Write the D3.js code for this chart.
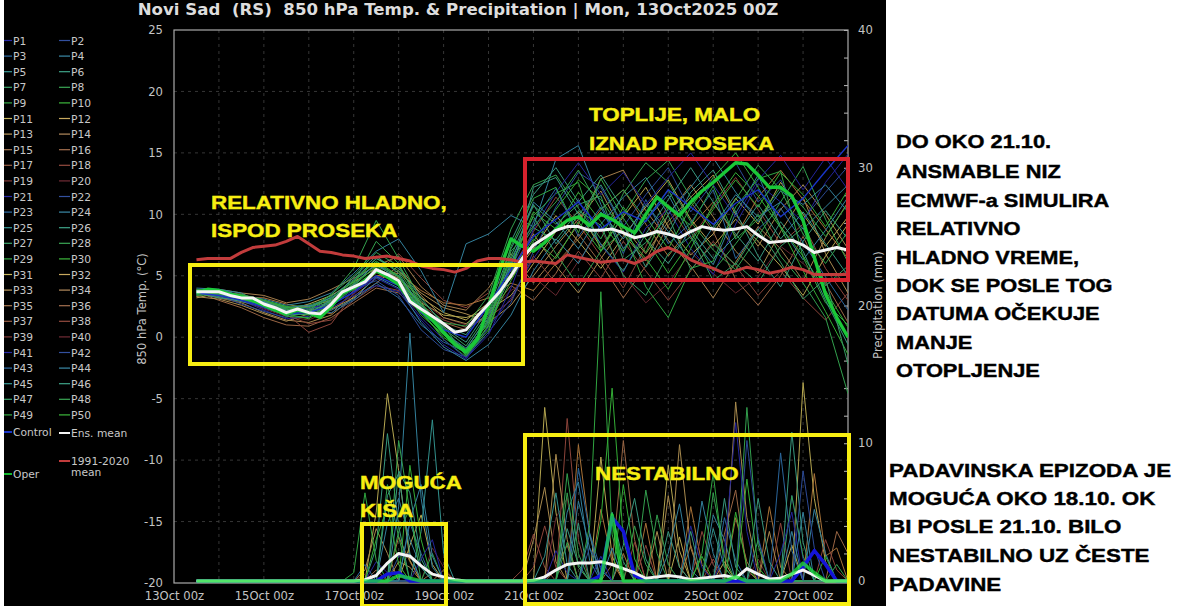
<!DOCTYPE html>
<html>
<head>
<meta charset="utf-8">
<script src="https://cdnjs.cloudflare.com/ajax/libs/d3/7.8.5/d3.min.js"></script>
<style>
	html, body { margin: 0; padding: 0; background: #fff; }
	svg { display: block; }
	text { font-family: "DejaVu Sans", sans-serif; }
	.note { font-family: "Liberation Sans", Arial, sans-serif; font-weight: bold; }
</style>
</head>
<body>
<script>
// values, time steps are 6 h from 13 Oct 12z
var ensMeanTemp = [3.7,3.7,3.7,3.4,3.2,3.2,2.7,2.4,2.0,2.3,2.0,1.9,2.7,3.7,4.1,4.5,5.5,5.1,4.6,2.9,2.3,1.7,1.1,0.4,0.6,1.7,2.7,3.7,5.0,6.4,7.5,8.1,8.7,9.0,9.0,8.7,8.7,8.8,8.5,8.1,8.3,8.6,8.4,8.1,8.6,9.0,8.8,8.7,8.8,9.0,8.3,7.7,7.8,7.9,7.5,6.9,7.1,7.3,7.1];
var climTemp = [6.3,6.4,6.4,6.4,6.9,7.3,7.4,7.5,7.8,8.2,7.6,7.0,6.9,6.7,6.6,6.4,6.5,6.6,6.4,6.2,5.8,5.6,5.5,5.3,5.6,6.2,6.4,6.4,6.3,6.1,6.2,6.1,6.0,6.7,6.5,6.3,6.1,6.2,6.3,6.0,6.4,7.0,7.3,6.9,6.3,5.9,5.6,5.2,5.4,5.7,5.5,5.2,5.4,5.7,5.5,5.1,5.1,5.1,5.1];
var operTemp = [3.6,3.9,3.8,3.5,3.3,3.0,2.6,2.2,1.9,2.2,2.0,1.6,2.5,3.6,4.0,4.6,5.4,4.9,4.3,3.0,2.2,1.4,0.4,-0.6,-1.2,-0.2,2.5,5.5,8.0,7.4,7.0,7.7,8.8,9.5,9.8,9.1,10.0,9.6,9.0,8.5,10.0,11.4,10.6,9.9,11.0,11.9,12.6,13.4,14.2,14.1,13.2,12.2,12.2,11.5,9.5,6.5,3.5,1.6,0.0];

// ensemble members, 12 h steps
var controlTemp = [3.6,3.4,3.0,2.5,1.9,2.0,2.6,3.7,5.0,4.2,2.0,0.6,0.0,2.6,5.5,8.2,9.6,11.0,8.8,10.2,9.4,12.0,10.6,9.2,10.9,12.0,9.8,11.3,13.5,15.6];
var tempP01 = [3.4,3.6,3.0,2.2,1.5,1.7,2.4,3.4,4.2,3.7,1.4,-0.6,-1.8,0.8,3.2,6.4,9.0,11.2,7.5,5.3,8.9,10.4,7.2,5.1,9.2,12.5,11.0,9.4,12.6,14.9];
var tempP03 = [3.8,3.5,3.1,2.4,1.8,2.2,2.0,3.0,4.4,3.2,1.0,-0.4,-1.2,1.4,5.6,9.4,12.1,8.2,10.6,6.8,11.2,7.6,9.3,12.0,6.4,8.8,10.5,7.7,4.9,2.2];
var tempP04 = [4.0,3.9,3.4,3.1,2.6,2.9,3.6,5.2,7.0,8.0,5.4,2.0,7.6,8.4,9.9,9.0,14.5,15.6,10.8,7.2,9.5,11.6,8.2,5.9,10.1,13.2,9.0,6.3,8.7,11.4];
var tempP06 = [3.7,3.3,2.9,2.5,2.3,1.9,3.1,4.6,5.9,5.0,2.6,0.8,-0.4,2.3,7.2,10.8,7.6,9.9,12.4,9.1,5.7,8.4,11.8,13.6,10.2,6.6,4.1,7.8,10.3,8.0];
var tempP07 = [3.8,3.6,3.3,2.9,2.4,2.3,2.9,4.0,5.4,4.7,2.1,0.5,-1.1,1.3,6.2,8.9,7.9,10.3,9.1,5.0,3.4,6.8,8.2,4.6,6.0,4.4,7.4,8.9,4.2,5.8];
var tempP08 = [3.9,3.7,3.3,2.8,2.1,2.4,3.4,5.6,9.5,6.4,3.0,1.2,0.9,3.4,8.8,12.4,13.2,10.5,8.0,11.7,14.2,12.6,9.4,7.1,5.5,8.2,11.0,13.9,9.6,6.1];
var tempP09 = [3.6,3.7,3.4,3.0,2.5,2.6,3.2,4.5,6.4,5.4,2.7,0.9,-1.5,0.4,5.9,9.9,11.7,12.6,7.0,8.7,4.1,1.6,5.6,6.2,10.6,12.9,13.5,6.5,2.8,1.0];
var tempP10 = [3.5,3.8,3.2,2.6,2.0,1.8,2.9,4.2,6.1,4.9,2.2,-0.2,-1.6,1.0,4.6,7.8,10.4,12.8,11.2,8.6,6.4,3.9,7.2,10.8,13.4,11.5,8.9,5.4,2.1,-1.4];
var tempP11 = [3.2,3.6,3.5,2.9,2.4,2.5,3.0,4.0,5.3,4.4,2.8,1.8,1.6,2.2,3.4,6.0,8.6,10.2,7.3,9.8,12.2,9.0,6.7,8.4,11.3,9.2,12.6,10.0,7.4,9.8];
var tempP13 = [3.6,3.2,2.8,2.0,1.4,1.2,1.8,3.3,4.8,5.4,3.6,2.4,1.9,1.2,2.6,5.0,7.4,9.6,11.9,8.4,6.2,10.0,12.4,9.8,7.0,5.2,8.6,11.4,6.8,3.6];
var tempP14 = [3.3,3.9,3.6,3.4,2.8,3.1,3.9,4.8,5.8,6.6,4.1,2.6,2.2,4.0,6.8,4.4,6.6,9.2,12.9,13.6,10.3,7.9,5.8,3.2,6.1,9.0,7.2,4.6,8.1,11.0];
var tempP16 = [3.7,3.0,2.4,1.6,1.0,0.9,1.6,2.8,4.0,3.6,2.0,1.2,0.6,1.9,4.2,3.0,5.2,8.4,6.0,3.2,5.8,9.1,11.0,8.6,4.7,2.6,5.0,8.2,4.4,1.2];
var tempP18 = [3.9,3.4,3.0,2.7,1.9,0.4,1.1,3.6,5.2,6.8,4.8,3.0,2.4,3.6,5.4,8.6,11.4,9.2,6.6,4.0,7.4,10.8,8.0,10.6,13.0,10.4,7.6,9.2,5.6,3.0];
var tempP20 = [3.4,3.7,3.1,2.3,1.7,1.4,2.2,3.5,5.0,4.6,2.9,1.6,1.0,2.0,3.8,4.9,3.4,6.2,8.8,5.1,2.8,4.4,6.9,5.2,3.6,4.9,7.4,6.0,4.2,5.5];
var tempP22 = [3.8,3.4,2.7,2.1,1.6,2.3,2.6,3.9,4.6,3.4,0.6,-1.0,-1.6,0.4,2.8,7.0,10.6,13.4,12.2,9.0,11.6,13.8,10.2,12.6,14.2,11.0,12.8,9.6,11.8,13.9];
var tempP24 = [3.5,3.9,3.6,2.6,2.4,2.6,2.2,3.1,4.9,4.0,1.2,-0.8,-1.9,-0.6,1.8,5.4,8.0,6.0,9.2,11.4,13.0,10.0,12.2,14.6,11.8,9.4,11.9,10.8,12.4,10.2];
var tempP26 = [3.6,3.2,3.0,2.9,2.2,2.1,3.3,4.7,6.4,5.6,3.2,1.0,0.2,2.9,7.8,11.6,13.8,11.0,13.2,10.4,8.0,6.0,8.8,6.4,8.2,10.8,8.0,10.2,7.6,5.0];
var tempP28 = [3.9,3.6,3.2,2.6,1.7,1.6,2.8,4.4,7.8,6.0,2.4,0.2,-1.0,1.8,6.4,9.8,6.8,4.2,7.0,10.0,12.8,14.4,11.4,8.8,11.2,14.0,12.0,8.4,6.0,8.6];
var tempP30 = [3.4,3.5,3.4,3.0,2.5,2.0,2.5,4.1,5.5,4.4,1.8,0.2,-1.4,0.6,5.8,10.2,8.8,11.8,9.4,7.0,9.8,7.2,10.6,13.0,15.0,12.2,9.0,6.6,3.8,0.8];
var tempP31 = [3.6,3.8,3.4,2.8,2.2,2.7,3.4,4.5,5.6,4.8,3.2,2.0,1.4,2.8,4.8,7.2,9.9,7.8,5.6,8.2,10.6,12.8,9.6,7.4,9.6,7.8,5.8,3.4,6.6,9.2];
var tempP33 = [3.3,3.1,2.6,1.9,1.3,1.9,2.3,3.2,4.4,5.8,3.4,1.6,1.1,2.5,5.2,8.4,5.8,3.6,6.4,9.0,6.8,9.4,11.4,13.2,10.0,7.4,10.4,12.4,10.0,7.2];
var tempP35 = [3.7,3.6,3.3,3.2,2.7,2.3,1.9,3.8,5.0,5.2,3.8,2.8,2.6,3.2,4.4,3.8,6.0,8.0,10.4,12.0,9.2,6.6,9.0,11.0,8.2,11.4,13.6,11.2,8.8,6.4];
var tempP38 = [3.8,3.2,2.9,2.4,1.8,1.1,1.4,3.0,4.2,3.8,2.6,1.4,0.8,1.6,3.0,6.6,4.4,7.0,4.8,7.8,5.4,3.0,5.4,7.8,5.8,3.4,5.4,3.2,1.4,3.6];
var tempP41 = [3.5,3.8,3.0,2.4,2.0,2.4,2.7,3.6,4.8,3.9,1.6,-0.2,-1.7,0.2,4.0,8.8,11.8,14.2,11.6,13.4,10.8,13.0,15.0,12.4,9.8,12.8,14.8,12.0,14.6,12.0];
var tempP44 = [3.8,3.6,3.1,2.9,2.1,2.5,3.2,4.3,6.0,4.6,2.2,0.4,-0.9,1.6,6.0,11.0,9.4,7.2,10.2,8.0,10.8,8.6,6.2,9.0,11.6,9.8,11.0,8.8,10.6,12.4];
var tempP46 = [3.6,3.4,3.2,2.5,1.8,1.9,3.0,4.9,6.6,5.2,2.4,0.4,-1.2,1.2,5.0,12.2,13.0,10.0,7.6,5.4,8.4,11.2,13.8,11.0,8.4,6.2,9.4,7.0,3.0,-0.6];
var tempP47 = [3.7,3.7,3.3,2.8,2.3,2.1,2.8,4.2,5.8,4.9,2.5,0.7,-0.7,2.0,6.6,10.7,9.2,10.8,11.5,6.3,7.7,9.9,5.5,7.6,5.9,8.8,6.1,3.1,4.8,-2.2];
var tempP48 = [3.7,3.5,3.4,2.7,2.3,2.2,3.5,5.0,6.9,5.8,2.8,0.6,-1.5,0.9,7.0,9.0,11.0,13.6,10.4,12.0,9.6,12.0,8.6,5.4,7.6,10.0,6.6,4.4,1.6,-4.6];
var tempP49 = [3.6,3.5,3.5,3.0,2.4,2.4,3.1,4.6,6.2,5.0,2.3,0.3,-1.0,1.1,7.4,11.3,12.2,8.5,12.9,9.7,6.9,10.5,9.1,12.3,8.0,9.6,12.2,10.6,8.2,10.9];
var tempP50 = [3.5,3.6,3.1,2.6,1.9,1.5,2.7,4.4,5.7,4.6,2.0,0.0,-1.3,1.5,5.2,8.0,6.4,9.4,7.0,10.6,8.0,5.2,7.8,10.4,12.8,10.6,13.4,11.6,9.0,12.0];

var ensMeanPrecip = [0,0,0,0,0,0,0,0,0,0,0,0,0,0,0,0.1,0.4,1.3,2.0,1.8,1.1,0.5,0.3,0.1,0,0,0,0,0,0,0.05,0.3,0.8,1.2,1.3,1.3,1.4,1.2,0.9,0.6,0.2,0.3,0.4,0.3,0.1,0.2,0.3,0.4,0.2,0.9,0.5,0.15,0.2,0.5,0.8,0.4,0,0,0];
// only the wet steps are listed, [step, mm]
var operPrecip = [[18,0.4],[19,0.2],[37,4.8],[48,0.3],[53,0.5],[54,1.3],[55,0.6]];
var controlPrecip = [[17,0.5],[18,0.6],[36,0.4],[37,4.6],[38,3.6],[39,0.4],[54,1.0],[55,2.2],[56,1.2]];
var precipP01 = [[16,1.4],[17,0.6],[32,2.2],[33,0.6],[44,4.0],[45,1.0],[53,6.2],[54,1.6]];
var precipP03 = [[15,1.2],[19,4.2],[20,2.0],[34,8.2],[35,3.5],[36,0.8],[47,4.6],[48,1.5],[52,9.3],[53,2.2]];
var precipP04 = [[18,5.4],[19,18.0],[20,6.0],[21,1.0],[33,5.0],[34,7.2],[35,1.5],[42,2.0],[43,5.6],[44,0.8],[55,5.2],[56,2.0]];
var precipP05 = [[20,3.6],[21,11.7],[22,2.0],[31,1.8],[32,6.4],[33,1.2],[46,3.8],[47,1.0]];
var precipP06 = [[16,2.4],[17,10.7],[18,4.0],[33,3.8],[34,1.2],[38,2.6],[39,6.0],[40,1.6],[50,3.0],[53,10.8],[54,2.8]];
var precipP08 = [[18,10.2],[19,5.0],[20,1.0],[33,6.4],[34,1.0],[40,6.6],[41,2.0],[49,12.6],[50,2.6]];
var precipP09 = [[14,0.6],[15,6.4],[16,1.5],[35,4.0],[36,21.0],[37,3.4],[45,2.0],[46,7.8],[47,1.0]];
var precipP10 = [[19,8.4],[20,3.0],[36,4.4],[37,14.0],[38,3.0],[48,5.0],[49,1.0],[56,1.8]];
var precipP11 = [[16,5.0],[17,13.6],[18,8.0],[19,1.5],[31,12.6],[32,5.0],[42,8.4],[43,2.2],[54,14.4],[55,6.0],[56,1.4]];
var precipP13 = [[18,1.4],[19,1.0],[30,3.0],[31,6.8],[32,1.4],[41,3.6],[43,9.9],[44,2.4],[48,13.0],[49,4.6],[50,0.6]];
var precipP15 = [[34,9.9],[35,3.4],[38,2.0],[44,5.4],[45,1.2],[51,5.4],[52,1.0],[55,7.8],[56,1.8],[57,2.4]];
var precipP16 = [[16,0.8],[21,0.6],[32,0.8],[33,2.6],[37,1.2],[38,10.2],[39,3.0],[47,3.4],[48,6.6],[49,0.8],[57,3.6],[58,2.0]];
var precipP18 = [[29,0.8],[30,3.4],[31,1.0],[33,11.8],[34,3.0],[40,2.6],[46,1.6],[52,4.2]];
var precipP20 = [[15,0.5],[21,2.4],[22,1.0],[32,4.6],[33,6.0],[34,1.0],[50,1.6]];
var precipP22 = [[18,1.8],[19,2.0],[35,2.4],[36,1.0],[49,10.2],[50,3.2],[54,8.0],[55,2.4]];
var precipP24 = [[17,4.2],[18,6.0],[19,3.0],[20,1.0],[34,5.8],[35,2.4],[46,4.8],[47,3.0],[53,3.6]];
var precipP26 = [[18,8.0],[19,6.4],[20,1.6],[37,5.0],[38,1.4],[44,3.6],[47,6.0],[48,1.0]];
var precipP28 = [[17,7.0],[18,3.2],[21,2.0],[33,7.8],[34,2.0],[41,4.8],[42,1.2],[53,6.2],[54,1.8]];
var precipP30 = [[16,3.0],[17,5.4],[18,1.2],[38,7.0],[39,1.6],[45,1.8],[49,7.4],[50,1.0]];
var precipP31 = [[19,2.6],[20,4.8],[21,1.2],[36,9.0],[37,1.8],[43,3.2],[47,1.4],[53,2.6]];
var precipP33 = [[15,0.8],[16,3.8],[17,2.0],[32,9.2],[33,3.0],[42,6.2],[43,1.0],[51,3.6]];
var precipP35 = [[18,3.2],[19,1.4],[22,0.8],[36,5.2],[37,1.4],[40,4.2],[44,2.6],[48,4.6],[49,1.4]];
var precipP38 = [[30,1.0],[31,4.0],[32,1.0],[39,2.8],[45,3.6],[46,1.2],[56,3.0],[57,0.8]];
var precipP41 = [[20,1.6],[21,3.0],[36,1.8],[47,2.0],[48,11.5],[49,3.6],[52,2.0],[53,5.0]];
var precipP44 = [[19,4.4],[20,7.0],[21,1.8],[35,3.4],[37,2.4],[45,5.8],[46,2.0],[54,5.0]];
var precipP46 = [[17,6.2],[18,7.8],[19,2.0],[34,4.2],[42,3.6],[43,1.0],[50,6.0],[51,1.4]];
var precipP48 = [[18,3.6],[19,5.2],[33,2.8],[39,4.0],[40,1.2],[46,6.4],[47,1.8],[57,1.2]];

var tempMembers = [[1,tempP01],[3,tempP03],[4,tempP04],[6,tempP06],[7,tempP07],[8,tempP08],[9,tempP09],[10,tempP10],[11,tempP11],[13,tempP13],[14,tempP14],[16,tempP16],[18,tempP18],[20,tempP20],[22,tempP22],[24,tempP24],[26,tempP26],[28,tempP28],[30,tempP30],[31,tempP31],[33,tempP33],[35,tempP35],[38,tempP38],[41,tempP41],[44,tempP44],[46,tempP46],[47,tempP47],[48,tempP48],[49,tempP49],[50,tempP50]];
var precipMembers = [[1,precipP01],[3,precipP03],[4,precipP04],[5,precipP05],[6,precipP06],[8,precipP08],[9,precipP09],[10,precipP10],[11,precipP11],[13,precipP13],[15,precipP15],[16,precipP16],[18,precipP18],[20,precipP20],[22,precipP22],[24,precipP24],[26,precipP26],[28,precipP28],[30,precipP30],[31,precipP31],[33,precipP33],[35,precipP35],[38,precipP38],[41,precipP41],[44,precipP44],[46,precipP46],[48,precipP48]];

var tempTicks = [-20,-15,-10,-5,0,5,10,15,20,25];
var dayTicks = ["2025-10-13","2025-10-15","2025-10-17","2025-10-19","2025-10-21","2025-10-23","2025-10-25","2025-10-27"];
var titleText = "Novi Sad  (RS)  850 hPa Temp. & Precipitation | Mon, 13Oct2025 00Z";

// member colours run blue > green > tan > dark red, 20 in a cycle
var memberColors = ["#24249a","#2c4a96","#2a669c","#33809c","#32908c","#38987e","#369a62","#33a04e","#30a541","#34ad36","#b5a650","#b5984e","#a88a4e","#a47d4c","#a87238","#9a6644","#8e5640","#8c443a","#763432","#662830"];
function memberColor(p) { return memberColors[(p - 1) % 20]; }
var legendColors = ["#2a2aa8","#33509f","#2f6da6","#3b8aa8","#3a9a98","#3fa58a","#3ea66c","#3aa855","#36ab47","#3db83c","#c8b85e","#c8a85e","#bd9a5e","#b48c5e","#ac7c56","#a47050","#9a6048","#964c40","#823a38","#722c36"];
// warm members go underneath, the blue-green ones stay on top
function warmFirst(a, b) {
	var warmA = (a[0] - 1) % 20 >= 10 ? 0 : 1, warmB = (b[0] - 1) % 20 >= 10 ? 0 : 1;
	return warmA - warmB || a[0] - b[0];
}

var svg = d3.select("body").append("svg").attr("width", 1200).attr("height", 606);
svg.append("rect").attr("x", 4).attr("y", 0).attr("width", 882).attr("height", 606).attr("fill", "#000");

var x = d3.scaleUtc().domain([new Date("2025-10-13T00:00Z"), new Date("2025-10-28T00:00Z")]).range([174, 848]);
var yTemp = d3.scaleLinear().domain([-20, 25]).range([583, 30]);
var yPrecip = d3.scaleLinear().domain([0, 40]).range([581, 30]);
var firstStep = Date.UTC(2025, 9, 13, 12);
function stepTime(i) { return new Date(firstStep + i * 6 * 3600 * 1000); }

svg.append("defs").append("clipPath").attr("id", "plot").append("rect")
	.attr("x", 174).attr("y", 30).attr("width", 674).attr("height", 553);

// grid
var grid = svg.append("g").attr("stroke", "#444").attr("stroke-dasharray", "3,4").attr("stroke-width", 0.8);
grid.selectAll("line.h").data(tempTicks.slice(1, -1)).enter().append("line").attr("class", "h")
	.attr("x1", 174).attr("x2", 848).attr("y1", function(d){ return yTemp(d); }).attr("y2", function(d){ return yTemp(d); });
grid.selectAll("line.v").data(d3.utcDay.range(new Date("2025-10-14T00:00Z"), new Date("2025-10-28T00:00Z"))).enter().append("line").attr("class", "v")
	.attr("y1", 30).attr("y2", 583).attr("x1", function(d){ return x(d); }).attr("x2", function(d){ return x(d); });

// axes
var leftAxis = d3.axisLeft(yTemp).tickValues(tempTicks).tickSize(0).tickPadding(11).tickFormat(String);
var rightAxis = d3.axisRight(yPrecip).tickValues(d3.range(0, 41, 2)).tickSize(-4).tickPadding(10)
	.tickFormat(function(d){ return d % 10 == 0 ? d : ""; });
var bottomAxis = d3.axisBottom(x).tickValues(dayTicks.map(function(d){ return new Date(d + "T00:00Z"); })).tickSize(0).tickPadding(9)
	.tickFormat(function(d){ return d3.utcFormat("%-d")(d) + "Oct 00z"; });
svg.append("g").attr("class", "axis").attr("transform", "translate(174,0)").call(leftAxis);
svg.append("g").attr("class", "axis").attr("transform", "translate(848,0)").call(rightAxis);
svg.append("g").attr("class", "axis").attr("transform", "translate(0,583)").call(bottomAxis);
svg.selectAll(".axis .domain").remove();
svg.selectAll(".axis text").attr("fill", "#c4c4c4").style("font-size", "11.6px");
svg.selectAll(".axis line").attr("stroke", "#bbb");
svg.append("rect").attr("x", 174).attr("y", 30).attr("width", 674).attr("height", 553)
	.attr("fill", "none").attr("stroke", "#aaa").attr("stroke-width", 1.2);

// lines
var plot = svg.append("g").attr("clip-path", "url(#plot)");
var tempLine = d3.line().x(function(d){ return x(d[0]); }).y(function(d){ return yTemp(d[1]); });
var precipLine = d3.line().x(function(d){ return x(d[0]); }).y(function(d){ return yPrecip(d[1]); });

function halfDaily(values) {
	return values.map(function(v, i){ return [stepTime(i * 2), v]; });
}
function sixHourly(values) {
	return values.map(function(v, i){ return [stepTime(i), v]; });
}
function wetSteps(wet) {
	var filled = ensMeanPrecip.map(function(){ return 0; });
	wet.forEach(function(d){ filled[d[0]] = d[1]; });
	return sixHourly(filled);
}
function draw(line, points, color, width, opacity) {
	plot.append("path").attr("d", line(points)).attr("fill", "none")
		.attr("stroke", color).attr("stroke-width", width).attr("stroke-linejoin", "round")
		.attr("stroke-opacity", opacity || 1);
}

precipMembers.slice().sort(warmFirst).forEach(function(m){ draw(precipLine, wetSteps(m[1]), memberColor(m[0]), 1); });
tempMembers.slice().sort(warmFirst).forEach(function(m){ draw(tempLine, halfDaily(m[1]), memberColor(m[0]), 1); });
draw(tempLine, halfDaily(controlTemp), "#1a35c8", 1.4);
draw(precipLine, wetSteps(controlPrecip), "#1414d8", 3.5);
draw(precipLine, sixHourly(ensMeanPrecip), "#f4f4f4", 3);
draw(precipLine, wetSteps(operPrecip), "#1ee03c", 3.5, 0.75);
draw(tempLine, sixHourly(operTemp), "#1ac838", 3.4);
draw(tempLine, sixHourly(climTemp), "#c23c3c", 3);
draw(tempLine, sixHourly(ensMeanTemp), "#f4f4f4", 3);

// titles
svg.append("text").attr("x", 458).attr("y", 15).attr("text-anchor", "middle").attr("fill", "#ddd")
	.attr("font-weight", "bold").style("font-size", "16.6px").style("white-space", "pre").text(titleText);
svg.append("text").attr("transform", "translate(146,309) rotate(-90)").attr("text-anchor", "middle")
	.attr("fill", "#c4c4c4").style("font-size", "11.6px").text("850 hPa Temp. (°C)");
svg.append("text").attr("transform", "translate(882,305) rotate(-90)").attr("text-anchor", "middle")
	.attr("fill", "#c4c4c4").style("font-size", "11.6px").text("Precipitation (mm)");

// legend
var legend = svg.append("g");
function legendEntry(lineX, rowY, label, color, width) {
	legend.append("line").attr("x1", lineX).attr("x2", lineX + (lineX < 20 ? 8 : 11)).attr("y1", rowY).attr("y2", rowY)
		.attr("stroke", color).attr("stroke-width", width);
	legend.append("text").attr("x", lineX + (lineX < 20 ? 9 : 12)).attr("y", rowY + 4).attr("fill", "#c8c8c8")
		.style("font-size", "10.7px").text(label);
}
d3.range(1, 51).forEach(function(p){
	var col = (p - 1) % 2, row = Math.floor((p - 1) / 2);
	legendEntry(col == 0 ? 4 : 59, 40.5 + row * 15.6, "P" + p, legendColors[(p - 1) % 20], 1.2);
});
legendEntry(4, 432, "Control", "#1a35c8", 2);
legendEntry(59, 433, "Ens. mean", "#f4f4f4", 2);
legendEntry(59, 461, "1991-2020", "#c23c3c", 2);
legend.append("text").attr("x", 71).attr("y", 476).attr("fill", "#c8c8c8").style("font-size", "10.7px").text("mean");
legendEntry(4, 474, "Oper", "#14b82e", 2);

// boxes and notes drawn on top of the chart
var boxes = [
	[190, 265, 523, 364, "#f7ee12"],
	[525, 159, 848, 280, "#d6222d"],
	[362, 524, 446, 606, "#f7ee12"],
	[525, 435, 849, 604, "#f7ee12"]
];
boxes.forEach(function(b){
	svg.append("rect").attr("x", b[0]).attr("y", b[1]).attr("width", b[2] - b[0]).attr("height", b[3] - b[1])
		.attr("fill", "none").attr("stroke", b[4]).attr("stroke-width", 4);
});
// the notes are wider than the font, stretch them sideways
function note(t, noteX, noteY, color, stretch) {
	svg.append("text").attr("class", "note").attr("transform", "translate(" + noteX + "," + noteY + ") scale(" + stretch + ",1)")
		.attr("fill", color).attr("stroke", color).attr("stroke-width", 0.4).style("font-size", "18.5px").text(t);
}
var yellowNotes = [
	["RELATIVNO HLADNO,", 211, 209],
	["ISPOD PROSEKA", 211, 237],
	["TOPLIJE, MALO", 589, 121],
	["IZNAD PROSEKA", 589, 150],
	["MOGUĆA", 360, 489],
	["KIŠA", 360, 517],
	["NESTABILNO", 595, 480]
];
yellowNotes.forEach(function(n){ note(n[0], n[1], n[2], "#f7ee12", 1.21); });
var sideLines = ["DO OKO 21.10.","ANSMABLE NIZ","ECMWF-a SIMULIRA","RELATIVNO","HLADNO VREME,","DOK SE POSLE TOG","DATUMA OČEKUJE","MANJE","OTOPLJENJE"];
var sideLinesY = [148,178,207,235,264,292,320,349,377];
sideLines.forEach(function(t, i){ note(t, 896, sideLinesY[i], "#000", 1.18); });
var rainLines = ["PADAVINSKA EPIZODA JE","MOGUĆA OKO 18.10. OK","BI POSLE 21.10. BILO","NESTABILNO UZ ČESTE","PADAVINE"];
var rainLinesY = [477,505,533,562,591];
rainLines.forEach(function(t, i){ note(t, 889, rainLinesY[i], "#000", 1.21); });
</script>
</body>
</html>
